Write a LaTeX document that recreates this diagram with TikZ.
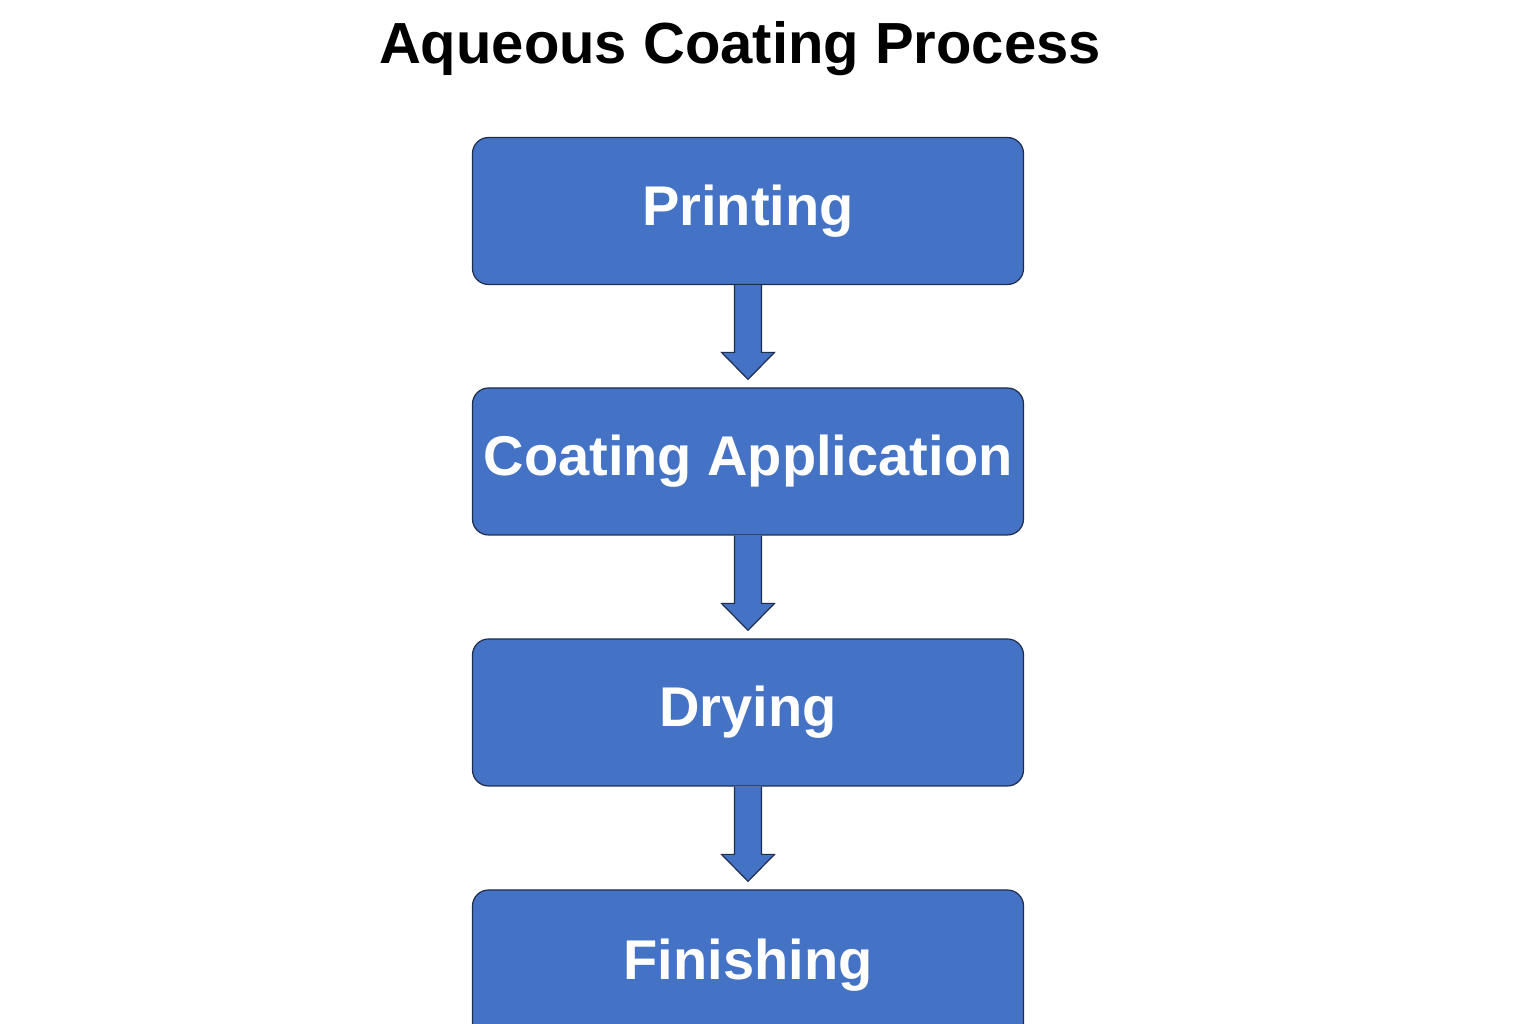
\documentclass[tikz,border=0pt]{standalone}
\usepackage{fontspec}
\setmainfont{Liberation Sans}
\usetikzlibrary{calc}
\definecolor{boxblue}{HTML}{4472C4}
\definecolor{edge}{HTML}{1F2D4D}
\begin{document}
\begin{tikzpicture}[x=1pt,y=1pt,
  stepbox/.style={draw=edge,line width=1.2pt,fill=boxblue,rounded corners=16pt,minimum width=551pt,minimum height=147pt,inner sep=0pt,text=white,font=\bfseries\fontsize{56}{60}\selectfont},
  blockarrow/.style={draw=edge,line width=1.2pt,fill=boxblue,line join=miter}]
\useasboundingbox (0,0) rectangle (1536,1024);
\clip (0,0) rectangle (1536,1024);
\fill[white] (0,0) rectangle (1536,1024);
\node[font=\bfseries\fontsize{58}{62}\selectfont] (title) at (740,975) {Aqueous Coating Process};
\node[stepbox] (p) at (748,813) {Printing};
\node[stepbox] (c) at (748,562.5) {Coating Application};
\node[stepbox] (d) at (748,311.5) {Drying};
\node[stepbox,minimum height=150pt] (f) at (748,59) {Finishing};
\foreach \a/\b in {p/c,c/d,d/f}{
  \draw[blockarrow] ($(\a.south)+(-13.5,0)$) -- ($(\b.north)+(-13.5,35)$) -- ($(\b.north)+(-26.5,35)$) -- ($(\b.north)+(0,8)$) -- ($(\b.north)+(26.5,35)$) -- ($(\b.north)+(13.5,35)$) -- ($(\a.south)+(13.5,0)$);
}
\end{tikzpicture}
\end{document}
